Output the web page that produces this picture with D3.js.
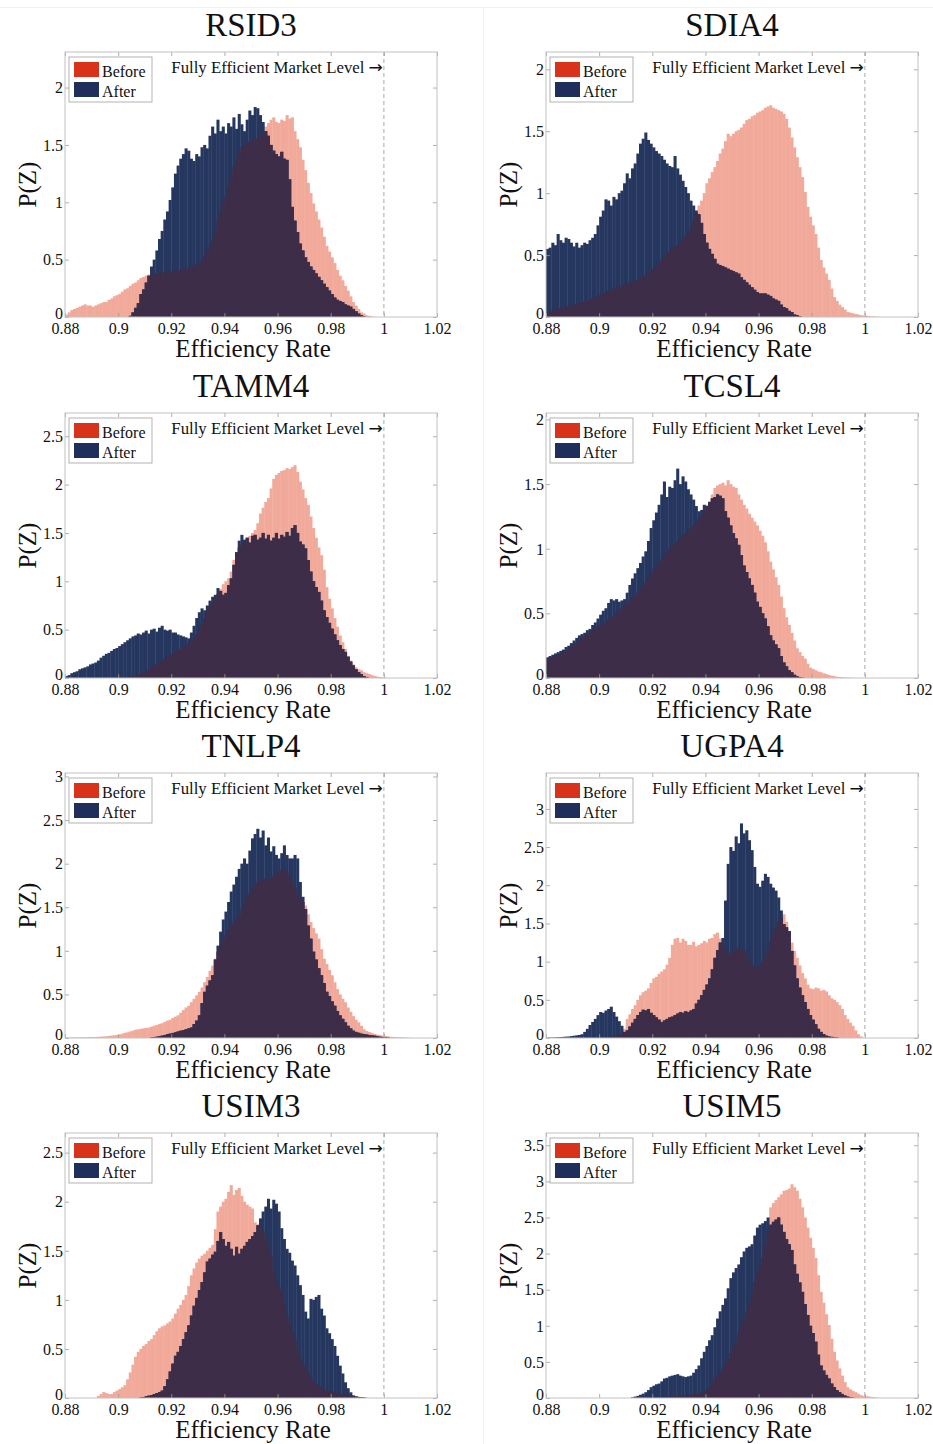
<!DOCTYPE html>
<html><head><meta charset="utf-8">
<script src="https://cdn.jsdelivr.net/npm/d3@7"></script>
<style>
html,body{margin:0;padding:0;background:#fff;}
svg text{font-family:"Liberation Serif","Times New Roman",serif;}
</style></head><body>
<svg id="chart" width="933" height="1444"></svg>
<script>
// ---------------- DATA ----------------
const titles = ["RSID3","SDIA4","TAMM4","TCSL4","TNLP4","UGPA4","USIM3","USIM5"];
const yMaxes = [2.31, 2.14, 2.74, 2.05, 3.04, 3.47, 2.7, 3.67];
const xTicks = [0.88, 0.9, 0.92, 0.94, 0.96, 0.98, 1, 1.02];
const xDomain = [0.88, 1.02];
const binStart = 0.88;
const binWidth = 0.001;
const legendLabels = ["Before", "After"];
const annotationText = "Fully Efficient Market Level ";
const annotationArrow = "\u2192";
const efficientLevel = 1;

const rsid3Before = [0.02,0.04,0.06,0.07,0.08,0.09,0.1,0.11,0.1,0.1,
0.09,0.1,0.11,0.12,0.13,0.13,0.15,0.16,0.18,0.19,
0.2,0.22,0.24,0.25,0.27,0.29,0.3,0.32,0.34,0.35,
0.36,0.37,0.37,0.38,0.38,0.39,0.38,0.39,0.4,0.39,
0.4,0.41,0.4,0.41,0.42,0.41,0.43,0.44,0.45,0.46,
0.47,0.5,0.53,0.57,0.62,0.67,0.75,0.84,0.92,0.99,
1.05,1.14,1.22,1.31,1.37,1.43,1.48,1.5,1.52,1.53,
1.54,1.55,1.56,1.58,1.6,1.66,1.69,1.72,1.74,1.7,
1.69,1.72,1.71,1.76,1.73,1.74,1.62,1.55,1.48,1.37,
1.28,1.17,1.08,0.99,0.92,0.85,0.78,0.7,0.62,0.57,
0.52,0.47,0.41,0.36,0.32,0.27,0.23,0.18,0.13,0.1,
0.07,0.04,0.03,0.015,0.01,0.005];
const rsid3After = [0,0,0,0,0,0,0,0,0,0,
0,0,0,0,0,0,0,0,0,0,
0,0,0,0,0.01,0.04,0.08,0.12,0.2,0.24,
0.3,0.36,0.44,0.5,0.58,0.68,0.75,0.85,0.92,1.02,
1.13,1.25,1.32,1.38,1.42,1.47,1.45,1.38,1.36,1.42,
1.4,1.48,1.5,1.47,1.58,1.66,1.6,1.72,1.62,1.66,
1.6,1.69,1.66,1.74,1.64,1.77,1.68,1.62,1.72,1.8,
1.76,1.83,1.82,1.76,1.7,1.62,1.58,1.5,1.45,1.42,
1.4,1.44,1.38,1.37,1.2,0.96,0.84,0.74,0.64,0.58,
0.52,0.48,0.44,0.41,0.38,0.35,0.32,0.29,0.26,0.23,
0.2,0.17,0.15,0.14,0.13,0.11,0.1,0.09,0.07,0.05,
0.03,0.015,0.005];

const sdia4Before = [0.03,0.04,0.05,0.06,0.07,0.07,0.08,0.08,0.09,0.09,
0.1,0.1,0.11,0.12,0.12,0.13,0.14,0.15,0.16,0.17,
0.18,0.19,0.2,0.21,0.22,0.23,0.24,0.24,0.25,0.26,
0.27,0.28,0.28,0.29,0.3,0.31,0.33,0.34,0.35,0.37,
0.39,0.41,0.43,0.46,0.48,0.51,0.53,0.55,0.57,0.58,
0.6,0.63,0.65,0.67,0.72,0.78,0.84,0.9,0.94,1.0,
1.08,1.12,1.17,1.21,1.26,1.32,1.36,1.42,1.48,1.46,
1.48,1.5,1.51,1.53,1.56,1.59,1.6,1.62,1.63,1.65,
1.66,1.67,1.69,1.7,1.71,1.69,1.68,1.67,1.66,1.64,
1.6,1.53,1.45,1.37,1.29,1.21,1.13,1.01,0.89,0.81,
0.74,0.67,0.56,0.46,0.4,0.35,0.3,0.23,0.16,0.13,
0.1,0.08,0.06,0.04,0.035,0.03,0.025,0.02,0.015,0.012,
0.01,0.008,0.005,0.004,0.003];
const sdia4After = [0.55,0.56,0.6,0.58,0.67,0.62,0.6,0.64,0.63,0.6,
0.57,0.6,0.56,0.58,0.6,0.59,0.62,0.64,0.67,0.74,
0.81,0.86,0.95,0.94,0.9,0.97,0.95,1.0,1.02,1.08,
1.16,1.12,1.2,1.24,1.32,1.4,1.44,1.49,1.43,1.4,
1.37,1.34,1.32,1.3,1.27,1.24,1.22,1.21,1.3,1.2,
1.15,1.1,1.05,1.0,0.94,0.9,0.86,0.83,0.76,0.67,
0.6,0.55,0.51,0.47,0.43,0.42,0.41,0.4,0.39,0.38,
0.37,0.36,0.35,0.32,0.3,0.28,0.26,0.24,0.22,0.2,
0.19,0.19,0.19,0.18,0.17,0.15,0.14,0.13,0.1,0.08,
0.07,0.05,0.04,0.02,0.015,0.005];

const tamm4Before = [0,0,0,0,0,0,0,0,0,0,
0,0,0,0,0,0,0,0,0,0.005,
0.005,0.01,0.01,0.01,0.015,0.02,0.02,0.03,0.04,0.06,
0.07,0.09,0.11,0.13,0.14,0.16,0.18,0.2,0.22,0.24,
0.25,0.27,0.29,0.3,0.32,0.34,0.36,0.38,0.41,0.45,
0.5,0.56,0.62,0.7,0.74,0.78,0.82,0.87,0.92,0.97,
1.0,1.03,1.1,1.22,1.3,1.35,1.38,1.42,1.45,1.47,
1.5,1.53,1.6,1.7,1.76,1.82,1.86,1.96,2.06,2.1,
2.12,2.14,2.15,2.17,2.16,2.18,2.2,2.13,2.03,1.95,
1.86,1.79,1.67,1.55,1.45,1.35,1.27,1.12,0.94,0.82,
0.72,0.62,0.53,0.44,0.37,0.3,0.23,0.18,0.14,0.11,
0.09,0.08,0.06,0.05,0.04,0.03,0.02,0.015,0.01,0.007,
0.004];
const tamm4After = [0.02,0.03,0.05,0.06,0.07,0.09,0.1,0.11,0.12,0.14,
0.15,0.16,0.18,0.21,0.23,0.25,0.26,0.28,0.3,0.31,
0.33,0.35,0.37,0.39,0.41,0.43,0.44,0.46,0.45,0.47,
0.49,0.46,0.5,0.51,0.48,0.52,0.54,0.5,0.49,0.5,
0.47,0.47,0.45,0.44,0.43,0.42,0.41,0.47,0.54,0.62,
0.68,0.72,0.7,0.75,0.8,0.84,0.86,0.93,0.9,0.86,
0.88,0.96,1.03,1.17,1.3,1.42,1.48,1.43,1.45,1.4,
1.47,1.48,1.43,1.45,1.5,1.44,1.48,1.42,1.45,1.5,
1.44,1.48,1.46,1.51,1.47,1.55,1.58,1.5,1.41,1.38,
1.34,1.22,1.1,1.0,0.94,0.89,0.8,0.7,0.63,0.57,
0.51,0.45,0.39,0.34,0.3,0.27,0.22,0.17,0.13,0.09,
0.06,0.04,0.02,0.01];

const tcsl4Before = [0.15,0.16,0.16,0.17,0.18,0.19,0.2,0.21,0.23,0.24,
0.26,0.27,0.29,0.31,0.32,0.34,0.35,0.37,0.38,0.4,
0.41,0.42,0.43,0.45,0.46,0.48,0.5,0.52,0.54,0.56,
0.58,0.6,0.62,0.64,0.66,0.69,0.71,0.74,0.77,0.8,
0.84,0.86,0.89,0.92,0.95,0.97,1.0,1.02,1.04,1.06,
1.08,1.1,1.12,1.14,1.16,1.18,1.2,1.23,1.26,1.3,
1.34,1.37,1.42,1.47,1.49,1.5,1.51,1.49,1.53,1.5,
1.48,1.47,1.42,1.38,1.34,1.31,1.27,1.24,1.21,1.18,
1.14,1.1,1.05,0.98,0.9,0.84,0.78,0.72,0.63,0.54,
0.47,0.41,0.35,0.29,0.23,0.2,0.17,0.15,0.11,0.08,
0.07,0.06,0.05,0.044,0.036,0.03,0.024,0.018,0.014,0.01,
0.008,0.006,0.004,0.003,0.002,0.001];
const tcsl4After = [0.16,0.17,0.18,0.19,0.2,0.21,0.22,0.24,0.25,0.27,
0.29,0.31,0.33,0.34,0.35,0.37,0.38,0.41,0.43,0.46,
0.49,0.52,0.54,0.58,0.61,0.6,0.61,0.59,0.6,0.61,
0.66,0.72,0.77,0.81,0.85,0.89,0.94,0.98,1.06,1.16,
1.22,1.28,1.34,1.42,1.52,1.4,1.48,1.47,1.53,1.62,
1.5,1.56,1.52,1.46,1.42,1.38,1.33,1.29,1.3,1.34,
1.33,1.36,1.39,1.4,1.42,1.41,1.39,1.29,1.24,1.18,
1.12,1.08,1.03,0.95,0.87,0.82,0.77,0.72,0.66,0.59,
0.55,0.5,0.46,0.4,0.33,0.29,0.26,0.23,0.17,0.12,
0.09,0.06,0.044,0.025,0.013,0.006,0.002];

const tnlp4Before = [0.005,0.005,0.006,0.006,0.007,0.007,0.008,0.008,0.009,0.01,
0.011,0.012,0.014,0.016,0.018,0.02,0.024,0.028,0.032,0.035,
0.04,0.05,0.06,0.065,0.075,0.085,0.095,0.1,0.105,0.11,
0.115,0.12,0.13,0.14,0.15,0.16,0.17,0.185,0.2,0.21,
0.23,0.245,0.26,0.29,0.32,0.35,0.37,0.41,0.45,0.49,
0.53,0.58,0.64,0.7,0.77,0.83,0.91,0.99,1.06,1.12,
1.18,1.24,1.29,1.33,1.37,1.41,1.48,1.56,1.62,1.66,
1.71,1.75,1.79,1.8,1.82,1.83,1.82,1.83,1.86,1.89,
1.91,1.93,1.94,1.9,1.85,1.79,1.72,1.64,1.6,1.56,
1.52,1.42,1.33,1.26,1.2,1.14,1.02,0.91,0.85,0.78,
0.72,0.64,0.56,0.5,0.45,0.41,0.35,0.3,0.25,0.21,
0.18,0.14,0.1,0.08,0.068,0.058,0.048,0.04,0.033,0.027,
0.022,0.018,0.015,0.013,0.011,0.009,0.008,0.006,0.004,0.002];
const tnlp4After = [0,0,0,0,0,0,0,0,0,0,
0,0,0,0,0,0,0,0,0,0,
0,0,0,0,0,0,0,0,0,0,
0,0,0.005,0.01,0.015,0.02,0.027,0.035,0.045,0.05,
0.058,0.065,0.075,0.084,0.09,0.1,0.11,0.12,0.16,0.2,
0.26,0.4,0.53,0.6,0.66,0.72,0.9,1.06,1.22,1.36,
1.45,1.56,1.68,1.76,1.85,1.94,2.0,2.06,2.0,2.15,
2.29,2.34,2.4,2.3,2.38,2.21,2.3,2.14,2.2,2.1,
2.06,2.12,2.21,2.1,2.06,2.06,2.1,2.06,1.79,1.62,
1.48,1.29,1.14,0.99,0.9,0.8,0.72,0.63,0.53,0.48,
0.42,0.37,0.31,0.26,0.22,0.18,0.14,0.11,0.084,0.07,
0.06,0.05,0.046,0.04,0.035,0.03,0.027,0.02,0.015,0.012,
0.01,0.005];

const ugpa4Before = [0,0,0,0,0,0,0,0,0,0,
0,0,0,0,0,0,0,0,0,0,
0,0,0,0,0.01,0.02,0.03,0.04,0.05,0.12,
0.25,0.31,0.38,0.43,0.5,0.56,0.6,0.62,0.65,0.72,
0.78,0.8,0.84,0.87,0.9,0.96,1.05,1.22,1.3,1.31,
1.25,1.3,1.27,1.22,1.22,1.26,1.2,1.22,1.24,1.27,
1.25,1.3,1.31,1.36,1.38,1.3,1.2,1.14,1.12,1.09,
1.13,1.16,1.18,1.16,1.14,1.1,1.0,0.96,0.93,0.91,
0.95,1.0,1.05,1.15,1.27,1.36,1.45,1.53,1.58,1.62,
1.52,1.4,1.25,1.14,1.05,0.95,0.85,0.78,0.7,0.65,
0.64,0.66,0.65,0.62,0.63,0.61,0.56,0.52,0.5,0.47,
0.43,0.38,0.3,0.25,0.2,0.16,0.1,0.05,0.02,0.005];
const ugpa4After = [0.005,0.005,0.006,0.008,0.01,0.012,0.015,0.018,0.02,0.025,
0.03,0.035,0.04,0.05,0.08,0.12,0.17,0.21,0.25,0.3,
0.34,0.33,0.36,0.38,0.41,0.34,0.28,0.22,0.16,0.08,
0.1,0.15,0.2,0.25,0.3,0.34,0.37,0.36,0.38,0.33,
0.3,0.27,0.24,0.21,0.23,0.25,0.27,0.28,0.3,0.32,
0.34,0.33,0.35,0.34,0.36,0.38,0.45,0.5,0.56,0.63,
0.7,0.78,0.9,1.05,1.15,1.25,1.31,1.8,2.28,2.5,
2.45,2.64,2.55,2.81,2.68,2.72,2.59,2.46,2.24,2.02,
1.98,2.06,2.15,2.11,2.02,1.97,1.93,1.84,1.67,1.49,
1.45,1.4,1.14,0.95,0.78,0.66,0.56,0.47,0.38,0.3,
0.24,0.18,0.12,0.08,0.05,0.03,0.02,0.015,0.01,0.005];

const usim3Before = [0,0,0,0,0,0,0,0,0,0,
0,0,0.02,0.04,0.06,0.05,0.04,0.04,0.06,0.075,
0.09,0.11,0.13,0.19,0.26,0.34,0.42,0.47,0.5,0.53,
0.55,0.58,0.6,0.64,0.68,0.71,0.73,0.74,0.76,0.78,
0.81,0.86,0.91,0.95,1.0,1.05,1.14,1.25,1.32,1.38,
1.42,1.45,1.47,1.5,1.53,1.56,1.72,1.9,1.95,2.0,
2.03,2.1,2.17,2.07,2.12,2.14,2.06,2.0,1.97,1.95,
1.93,1.79,1.77,1.76,1.7,1.62,1.56,1.45,1.28,1.2,
1.13,1.08,0.96,0.84,0.76,0.68,0.6,0.5,0.4,0.35,
0.3,0.26,0.21,0.16,0.14,0.12,0.11,0.09,0.075,0.07,
0.065,0.058,0.05,0.04,0.037,0.034,0.032,0.03,0.025,0.02,
0.015,0.01,0.007,0.004];
const usim3After = [0,0,0,0,0,0,0,0,0,0,
0,0,0,0,0,0,0,0,0,0,
0,0,0,0,0,0,0,0,0.005,0.01,
0.018,0.024,0.03,0.04,0.05,0.06,0.075,0.12,0.19,0.27,
0.35,0.43,0.47,0.53,0.6,0.67,0.74,0.84,0.94,1.02,
1.1,1.18,1.28,1.39,1.42,1.46,1.49,1.6,1.69,1.62,
1.55,1.59,1.52,1.45,1.54,1.47,1.52,1.55,1.59,1.62,
1.65,1.69,1.76,1.83,1.9,1.95,2.03,1.93,2.02,1.98,
1.9,1.73,1.62,1.52,1.48,1.4,1.35,1.25,1.15,1.05,
0.88,0.81,1.01,1.0,1.03,1.05,0.91,0.84,0.71,0.66,
0.6,0.53,0.43,0.33,0.25,0.16,0.1,0.058,0.024,0.015,
0.01,0.007,0.004];

const usim5Before = [0,0,0,0,0,0,0,0,0,0,
0,0,0,0,0,0,0,0,0,0,
0,0,0,0,0,0,0,0,0,0,
0,0,0,0,0,0,0,0,0,0.01,
0.01,0.012,0.013,0.014,0.015,0.017,0.019,0.02,0.022,0.025,
0.028,0.031,0.035,0.04,0.045,0.05,0.055,0.062,0.07,0.09,
0.12,0.15,0.21,0.27,0.31,0.36,0.4,0.47,0.54,0.62,
0.7,0.78,0.9,1.01,1.1,1.2,1.29,1.45,1.61,1.72,
1.83,1.94,2.12,2.31,2.64,2.7,2.74,2.78,2.82,2.87,
2.88,2.9,2.96,2.92,2.87,2.76,2.64,2.5,2.36,2.22,
2.08,1.94,1.7,1.47,1.32,1.16,1.01,0.82,0.64,0.52,
0.41,0.31,0.22,0.15,0.12,0.1,0.08,0.06,0.04,0.03,
0.025,0.02,0.015,0.01,0.005];
const usim5After = [0,0,0,0,0,0,0,0,0,0,
0,0,0,0,0,0,0,0,0,0,
0,0,0,0,0,0,0,0,0,0,
0,0,0.01,0.02,0.03,0.045,0.06,0.08,0.11,0.15,
0.17,0.19,0.2,0.23,0.27,0.28,0.3,0.31,0.32,0.33,
0.31,0.3,0.29,0.3,0.31,0.35,0.4,0.45,0.55,0.64,
0.72,0.8,0.87,0.98,1.1,1.2,1.29,1.38,1.52,1.66,
1.74,1.8,1.85,1.95,2.03,2.08,2.1,2.13,2.25,2.36,
2.4,2.42,2.45,2.5,2.4,2.44,2.47,2.5,2.4,2.3,
2.2,2.13,2.05,1.85,1.72,1.6,1.47,1.3,1.15,1.0,
0.9,0.78,0.6,0.45,0.38,0.32,0.27,0.2,0.15,0.11,
0.08,0.056,0.035,0.02,0.01,0.005];

const beforeSeries = [rsid3Before, sdia4Before, tamm4Before, tcsl4Before, tnlp4Before, ugpa4Before, usim3Before, usim5Before];
const afterSeries  = [rsid3After, sdia4After, tamm4After, tcsl4After, tnlp4After, ugpa4After, usim3After, usim5After];

// ---------------- STYLE / LAYOUT ----------------
const colBefore = "#f1a99a";
const colAfter = "#26375f";
const colOverlap = "#3e2d48";
const legendBefore = "#d8321a";
const legendAfter = "#1f2e5b";
const axisGray = "#c2c2c2";
const textCol = "#111";

const colLeft = [65, 546];
const rowTop = [52, 413, 773, 1133];
const plotW = 372, plotH = 265;

const svg = d3.select("#chart");
svg.append("rect").attr("width",933).attr("height",1444).attr("fill","#fff");
svg.append("line").attr("x1",0).attr("x2",933).attr("y1",7.5).attr("y2",7.5).attr("stroke","#efefef");
svg.append("line").attr("x1",483.5).attr("x2",483.5).attr("y1",8).attr("y2",1444).attr("stroke","#efefef");

const fmt = d => String(+d.toFixed(2));

titles.forEach((title, k) => {
  const left = colLeft[k % 2], top = rowTop[Math.floor(k / 2)];
  const x = d3.scaleLinear().domain(xDomain).range([0, plotW]);
  const y = d3.scaleLinear().domain([0, yMaxes[k]]).range([plotH, 0]);
  const g = svg.append("g").attr("transform", `translate(${left},${top})`);
  const clipId = "clip" + k;
  g.append("clipPath").attr("id", clipId).append("rect").attr("width", plotW).attr("height", plotH);

  const before = beforeSeries[k], after = afterSeries[k];
  const n = Math.max(before.length, after.length);
  const overlap = d3.range(n).map(i => Math.min(before[i] || 0, after[i] || 0));

  const bars = g.append("g").attr("clip-path", `url(#${clipId})`);
  function drawBars(vals, color) {
    const data = vals.map((v, i) => ({ x0: binStart + i * binWidth, v })).filter(d => d.v > 0);
    bars.append("g").selectAll("rect").data(data).join("rect")
      .attr("x", d => x(d.x0))
      .attr("width", d => x(d.x0 + binWidth) - x(d.x0) + 0.4)
      .attr("y", d => y(d.v))
      .attr("height", d => y(0) - y(d.v))
      .attr("fill", color);
  }
  drawBars(before, colBefore);
  drawBars(after, colAfter);
  drawBars(overlap, colOverlap);

  g.append("line").attr("x1", x(efficientLevel)).attr("x2", x(efficientLevel))
    .attr("y1", 0).attr("y2", plotH)
    .attr("stroke", "#b8b8b8").attr("stroke-width", 1.2).attr("stroke-dasharray", "4,3");

  const yTicks = d3.range(0, yMaxes[k] + 1e-9, 0.5);
  const xb = g.append("g").attr("transform", `translate(0,${plotH})`)
    .call(d3.axisBottom(x).tickValues(xTicks).tickSize(-4).tickPadding(6).tickFormat(fmt));
  const xt = g.append("g")
    .call(d3.axisTop(x).tickValues(xTicks).tickSize(-4).tickFormat(""));
  const yl = g.append("g")
    .call(d3.axisLeft(y).tickValues(yTicks).tickSize(-4).tickPadding(2).tickFormat(fmt));
  const yr = g.append("g").attr("transform", `translate(${plotW},0)`)
    .call(d3.axisRight(y).tickValues(yTicks).tickSize(-4).tickFormat(""));
  [xb, xt, yl, yr].forEach(a => {
    a.select(".domain").remove();
    a.selectAll(".tick line").attr("stroke", "#9a9a9a").attr("stroke-width", 0.8);
    a.selectAll("text").attr("fill", textCol).style("font-size", "16px")
      .style("font-family", '"Liberation Serif","Times New Roman",serif');
  });
  yl.selectAll("text").attr("dy", d => d === 0 ? "0.12em" : "0.33em");

  g.append("rect").attr("width", plotW).attr("height", plotH)
    .attr("fill", "none").attr("stroke", axisGray).attr("stroke-width", 1);

  const lg = g.append("g").attr("transform", "translate(4,5)");
  lg.append("rect").attr("width", 83).attr("height", 45).attr("fill", "#fff")
    .attr("stroke", "#a0a0a0").attr("stroke-width", 0.8);
  [legendBefore, legendAfter].forEach((c, j) => {
    lg.append("rect").attr("x", 5).attr("y", 5 + j * 20).attr("width", 25).attr("height", 15).attr("fill", c);
    lg.append("text").attr("x", 33).attr("y", 19.7 + j * 20).text(legendLabels[j])
      .attr("fill", textCol).style("font-size", "16px");
  });

  const ann = g.append("text").attr("x", x(efficientLevel) - 1).attr("y", 21)
    .attr("text-anchor", "end").attr("fill", textCol).style("font-size", "16.8px");
  ann.append("tspan").text(annotationText);
  ann.append("tspan").text(annotationArrow)
    .style("font-family", '"DejaVu Sans",sans-serif').style("font-size", "17px");

  g.append("text").attr("x", plotW / 2).attr("y", -16).attr("text-anchor", "middle")
    .text(title).attr("fill", "#111").style("font-size", "33px");
  g.append("text").attr("x", plotW / 2 + 2).attr("y", plotH + 40).attr("text-anchor", "middle")
    .text("Efficiency Rate").attr("fill", "#111").style("font-size", "25px");
  g.append("text").attr("transform", `translate(-29,${plotH / 2}) rotate(-90)`)
    .attr("text-anchor", "middle").text("P(Z)").attr("fill", "#111").style("font-size", "25px");
});
</script>
</body></html>
